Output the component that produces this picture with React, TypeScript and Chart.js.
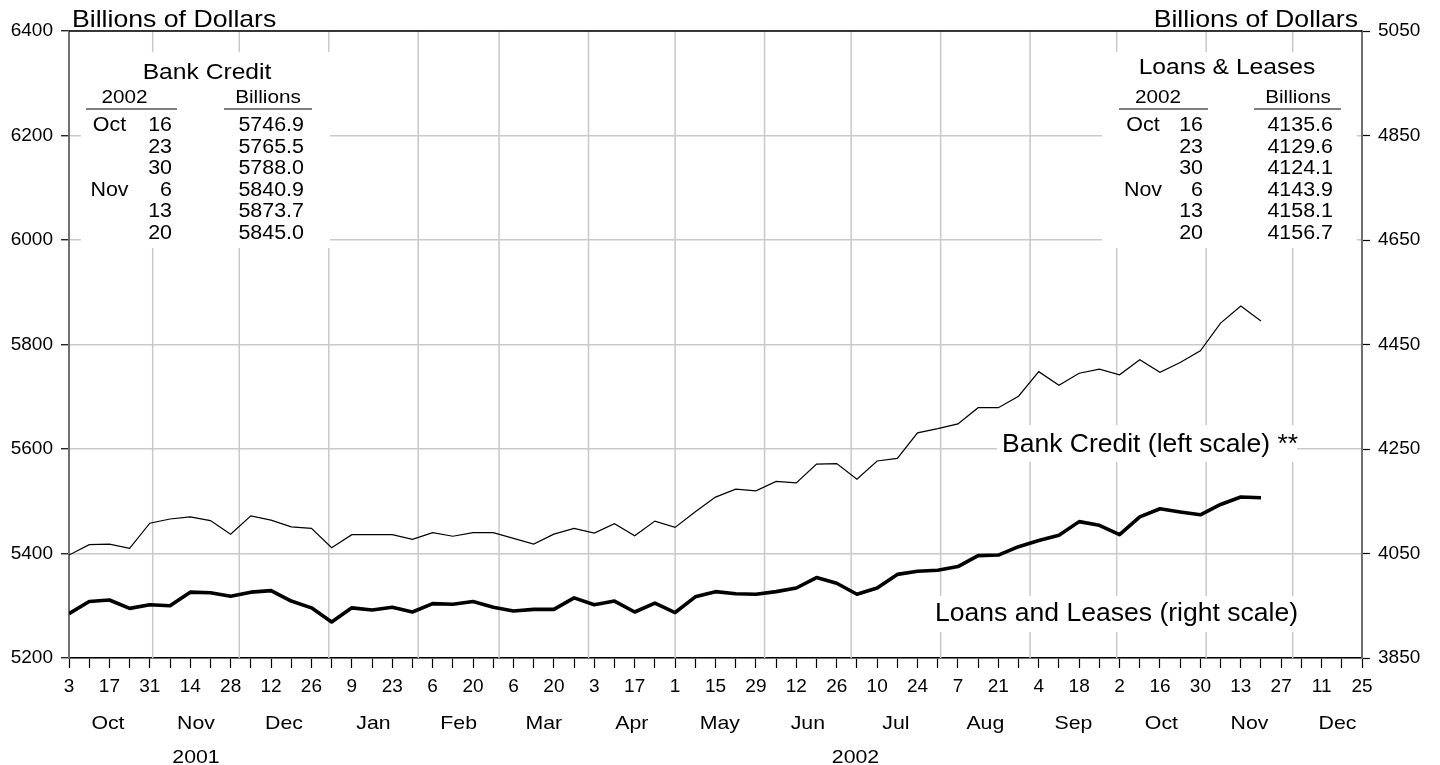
import React, { useEffect, useRef } from "react";
import { Chart, registerables } from "chart.js";

Chart.register(...registerables);

// ---------------- data ----------------
// weekly observations starting Wed Oct 3, 2001 (one per week)
const bankCredit = [
  5397, 5417, 5418, 5410, 5458, 5466, 5470, 5463, 5437, 5472,
  5464, 5451, 5448, 5411, 5436, 5436, 5436, 5427, 5440, 5433,
  5440, 5440, 5429, 5418, 5437, 5448, 5439, 5457, 5434, 5462,
  5450, 5480, 5508, 5523, 5520, 5538, 5535, 5571, 5572, 5542,
  5577, 5582, 5631, 5639, 5648, 5679, 5679, 5701, 5748, 5722,
  5745, 5753, 5742, 5771, 5746.9, 5765.5, 5788.0, 5840.9, 5873.7, 5845.0,
];
const loansLeases = [
  3935, 3958, 3961, 3945, 3952, 3950, 3976, 3975, 3968, 3976,
  3979, 3959, 3946, 3919, 3946, 3942, 3947, 3938, 3954, 3953,
  3958, 3947, 3940, 3943, 3943, 3965, 3952, 3959, 3938, 3955,
  3937, 3967, 3977, 3973, 3972, 3977, 3984, 4004, 3993, 3972,
  3984, 4010, 4016, 4018, 4025, 4046, 4047, 4063, 4075, 4085,
  4111, 4104, 4086, 4120, 4135.6, 4129.6, 4124.1, 4143.9, 4158.1, 4156.7,
];
const dayLabels = [
  "3", "17", "31", "14", "28", "12", "26", "9", "23", "6", "20", "6", "20",
  "3", "17", "1", "15", "29", "12", "26", "10", "24", "7", "21", "4", "18",
  "2", "16", "30", "13", "27", "11", "25",
];
const monthNames = [
  "Oct", "Nov", "Dec", "Jan", "Feb", "Mar", "Apr", "May", "Jun", "Jul",
  "Aug", "Sep", "Oct", "Nov", "Dec",
];
const yearLabels = ["2001", "2002"];
const leftTicks = [5200, 5400, 5600, 5800, 6000, 6200, 6400];
const rightTicks = [3850, 4050, 4250, 4450, 4650, 4850, 5050];
const tableMonths = ["Oct", "", "", "Nov", "", ""];
const tableDays = ["16", "23", "30", "6", "13", "20"];
const tableYear = "2002";

// ---------------- helpers ----------------
const START = Date.UTC(2001, 9, 3);
const dayOf = (y: number, m: number, d: number) => (Date.UTC(y, m, d) - START) / 86400000;
const AXIS_END = dayOf(2002, 11, 25);
const weekTicks: number[] = [];
for (let d = 0; d <= AXIS_END; d += 7) weekTicks.push(d);
// month starts: Oct 2001 .. Jan 2003
const monthStarts: number[] = [];
for (let k = 0; k <= monthNames.length; k++) {
  monthStarts.push(dayOf(2001, 9 + k, 1));
}

const FONT = '"Liberation Sans", Arial, Helvetica, sans-serif';

function txt(
  ctx: CanvasRenderingContext2D,
  s: string,
  x: number,
  y: number,
  size: number,
  align: CanvasTextAlign,
  sx = 1.1
) {
  ctx.save();
  ctx.font = `${size}px ${FONT}`;
  ctx.fillStyle = "#000";
  ctx.textAlign = align;
  ctx.textBaseline = "alphabetic";
  ctx.translate(x, y);
  ctx.scale(sx, 1);
  ctx.fillText(s, 0, 0);
  ctx.restore();
}

const GRID = "#c9c9c9";

const decorPlugin = {
  id: "decor",
  beforeDatasetsDraw(chart: any) {
    const { ctx, chartArea } = chart;
    const xs = chart.scales.x;
    ctx.save();
    // vertical grid at month starts
    ctx.strokeStyle = GRID;
    ctx.lineWidth = 1.5;
    monthStarts.forEach((d) => {
      if (d <= 0 || d >= AXIS_END) return;
      const px = xs.getPixelForValue(d);
      ctx.beginPath();
      ctx.moveTo(px, chartArea.top);
      ctx.lineTo(px, chartArea.bottom);
      ctx.stroke();
    });
    // white boxes behind annotation texts
    ctx.fillStyle = "#fff";
    ctx.fillRect(81, 52, 249, 196);
    ctx.fillRect(1102, 52, 255, 196);
    ctx.fillRect(997, 425, 300, 37);
    ctx.fillRect(930, 596, 370, 36);
    ctx.restore();
  },
  afterDraw(chart: any) {
    const { ctx, chartArea } = chart;
    const xs = chart.scales.x;
    ctx.save();
    // top frame line
    ctx.strokeStyle = "#000";
    ctx.lineWidth = 1.5;
    ctx.beginPath();
    ctx.moveTo(chartArea.left, chartArea.top);
    ctx.lineTo(chartArea.right, chartArea.top);
    ctx.stroke();

    // axis titles
    txt(ctx, "Billions of Dollars", 72, 27, 24, "left", 1.11);
    txt(ctx, "Billions of Dollars", 1358, 27, 24, "right", 1.11);

    // month names and years
    const base = chartArea.bottom;
    for (let k = 0; k < monthNames.length; k++) {
      const c = (monthStarts[k] + monthStarts[k + 1]) / 2;
      txt(ctx, monthNames[k], xs.getPixelForValue(c), base + 71, 19, "center", 1.12);
    }
    const y2001 = (monthStarts[0] + monthStarts[3]) / 2;
    const y2002 = (monthStarts[3] + monthStarts[15]) / 2;
    txt(ctx, yearLabels[0], xs.getPixelForValue(y2001), base + 105, 19, "center", 1.12);
    txt(ctx, yearLabels[1], xs.getPixelForValue(y2002), base + 105, 19, "center", 1.12);

    // tables
    const drawTable = (
      title: string,
      titleX: number,
      titleY: number,
      yearX: number,
      billX: number,
      line1: [number, number],
      line2: [number, number],
      monX: number,
      dayX: number,
      valX: number,
      vals: number[]
    ) => {
      txt(ctx, title, titleX, titleY, 22, "center", 1.12);
      txt(ctx, tableYear, yearX, 103, 18.5, "center", 1.12);
      txt(ctx, "Billions", billX, 103, 18.5, "center", 1.12);
      ctx.strokeStyle = "#000";
      ctx.lineWidth = 1.2;
      ctx.beginPath();
      ctx.moveTo(line1[0], 109);
      ctx.lineTo(line1[1], 109);
      ctx.moveTo(line2[0], 109);
      ctx.lineTo(line2[1], 109);
      ctx.stroke();
      const last = vals.slice(-6);
      for (let r = 0; r < 6; r++) {
        const by = 131 + r * 21.6;
        if (tableMonths[r]) txt(ctx, tableMonths[r], monX, by, 19.5, "center", 1.1);
        txt(ctx, tableDays[r], dayX, by, 19.5, "right", 1.1);
        txt(ctx, last[r].toFixed(1), valX, by, 19.5, "right", 1.1);
      }
    };
    drawTable("Bank Credit", 207, 79, 124.5, 268, [86, 177], [224, 312], 109.5, 172, 304, bankCredit);
    drawTable("Loans & Leases", 1227, 74, 1158, 1298, [1119, 1208], [1254, 1341], 1143, 1203, 1333, loansLeases);

    // series labels
    txt(ctx, "Bank Credit (left scale) **", 1002, 452, 25, "left", 1.06);
    txt(ctx, "Loans and Leases (right scale)", 935, 621, 25, "left", 1.062);
    ctx.restore();
  },
};

export default function App() {
  const ref = useRef<HTMLCanvasElement | null>(null);
  useEffect(() => {
    if (!ref.current) return;
    const tickFont = { family: FONT, size: 19 };
    const chart = new Chart(ref.current, {
      type: "line",
      data: {
        datasets: [
          {
            label: "Bank Credit",
            data: bankCredit.map((v, i) => ({ x: i * 7, y: v })),
            yAxisID: "y",
            borderColor: "#000",
            borderWidth: 1.2,
            pointRadius: 0,
            tension: 0,
            fill: false,
          },
          {
            label: "Loans and Leases",
            data: loansLeases.map((v, i) => ({ x: i * 7, y: v })),
            yAxisID: "y1",
            borderColor: "#000",
            borderWidth: 3.6,
            pointRadius: 0,
            tension: 0,
            fill: false,
            borderJoinStyle: "round",
          },
        ],
      },
      options: {
        responsive: false,
        animation: false,
        events: [],
        layout: { padding: { top: 31, left: 0, right: 0, bottom: 0 } },
        plugins: { legend: { display: false }, tooltip: { enabled: false } },
        scales: {
          x: {
            type: "linear",
            min: 0,
            max: AXIS_END,
            afterBuildTicks: (s: any) => {
              s.ticks = weekTicks.map((v) => ({ value: v }));
            },
            afterFit: (s: any) => {
              s.height = 107;
            },
            ticks: {
              autoSkip: false,
              maxRotation: 0,
              minRotation: 0,
              padding: 7,
              color: "#000",
              font: tickFont,
              callback: (v: any) => {
                const n = Number(v);
                return n % 14 === 0 ? dayLabels[n / 14] : "";
              },
            },
            grid: {
              drawOnChartArea: false,
              tickLength: 10,
              tickColor: "#000",
              tickWidth: 1.2,
            },
            border: { color: "#000", width: 1.5 },
          },
          y: {
            type: "linear",
            position: "left",
            min: 5200,
            max: 6400,
            afterBuildTicks: (s: any) => {
              s.ticks = leftTicks.map((v) => ({ value: v }));
            },
            afterFit: (s: any) => {
              s.width = 69;
            },
            ticks: {
              padding: 8,
              color: "#000",
              font: tickFont,
              callback: (v: any) => String(v),
            },
            grid: {
              color: GRID,
              lineWidth: 1.5,
              tickLength: 8,
              tickColor: "#000",
              tickWidth: 1.2,
            },
            border: { color: "#707070", width: 2 },
          },
          y1: {
            type: "linear",
            position: "right",
            min: 3850,
            max: 5050,
            afterBuildTicks: (s: any) => {
              s.ticks = rightTicks.map((v) => ({ value: v }));
            },
            afterFit: (s: any) => {
              s.width = 78;
            },
            ticks: {
              padding: 8,
              color: "#000",
              font: tickFont,
              callback: (v: any) => String(v),
            },
            grid: {
              drawOnChartArea: false,
              tickLength: 8,
              tickColor: "#000",
              tickWidth: 1.2,
            },
            border: { color: "#707070", width: 2 },
          },
        },
      },
      plugins: [decorPlugin],
    } as any);
    return () => chart.destroy();
  }, []);
  return (
    <div style={{ position: "absolute", left: 0, top: 0, width: 1440, height: 765, background: "#fff" }}>
      <canvas ref={ref} width={1440} height={765} style={{ display: "block", width: 1440, height: 765 }} />
    </div>
  );
}
